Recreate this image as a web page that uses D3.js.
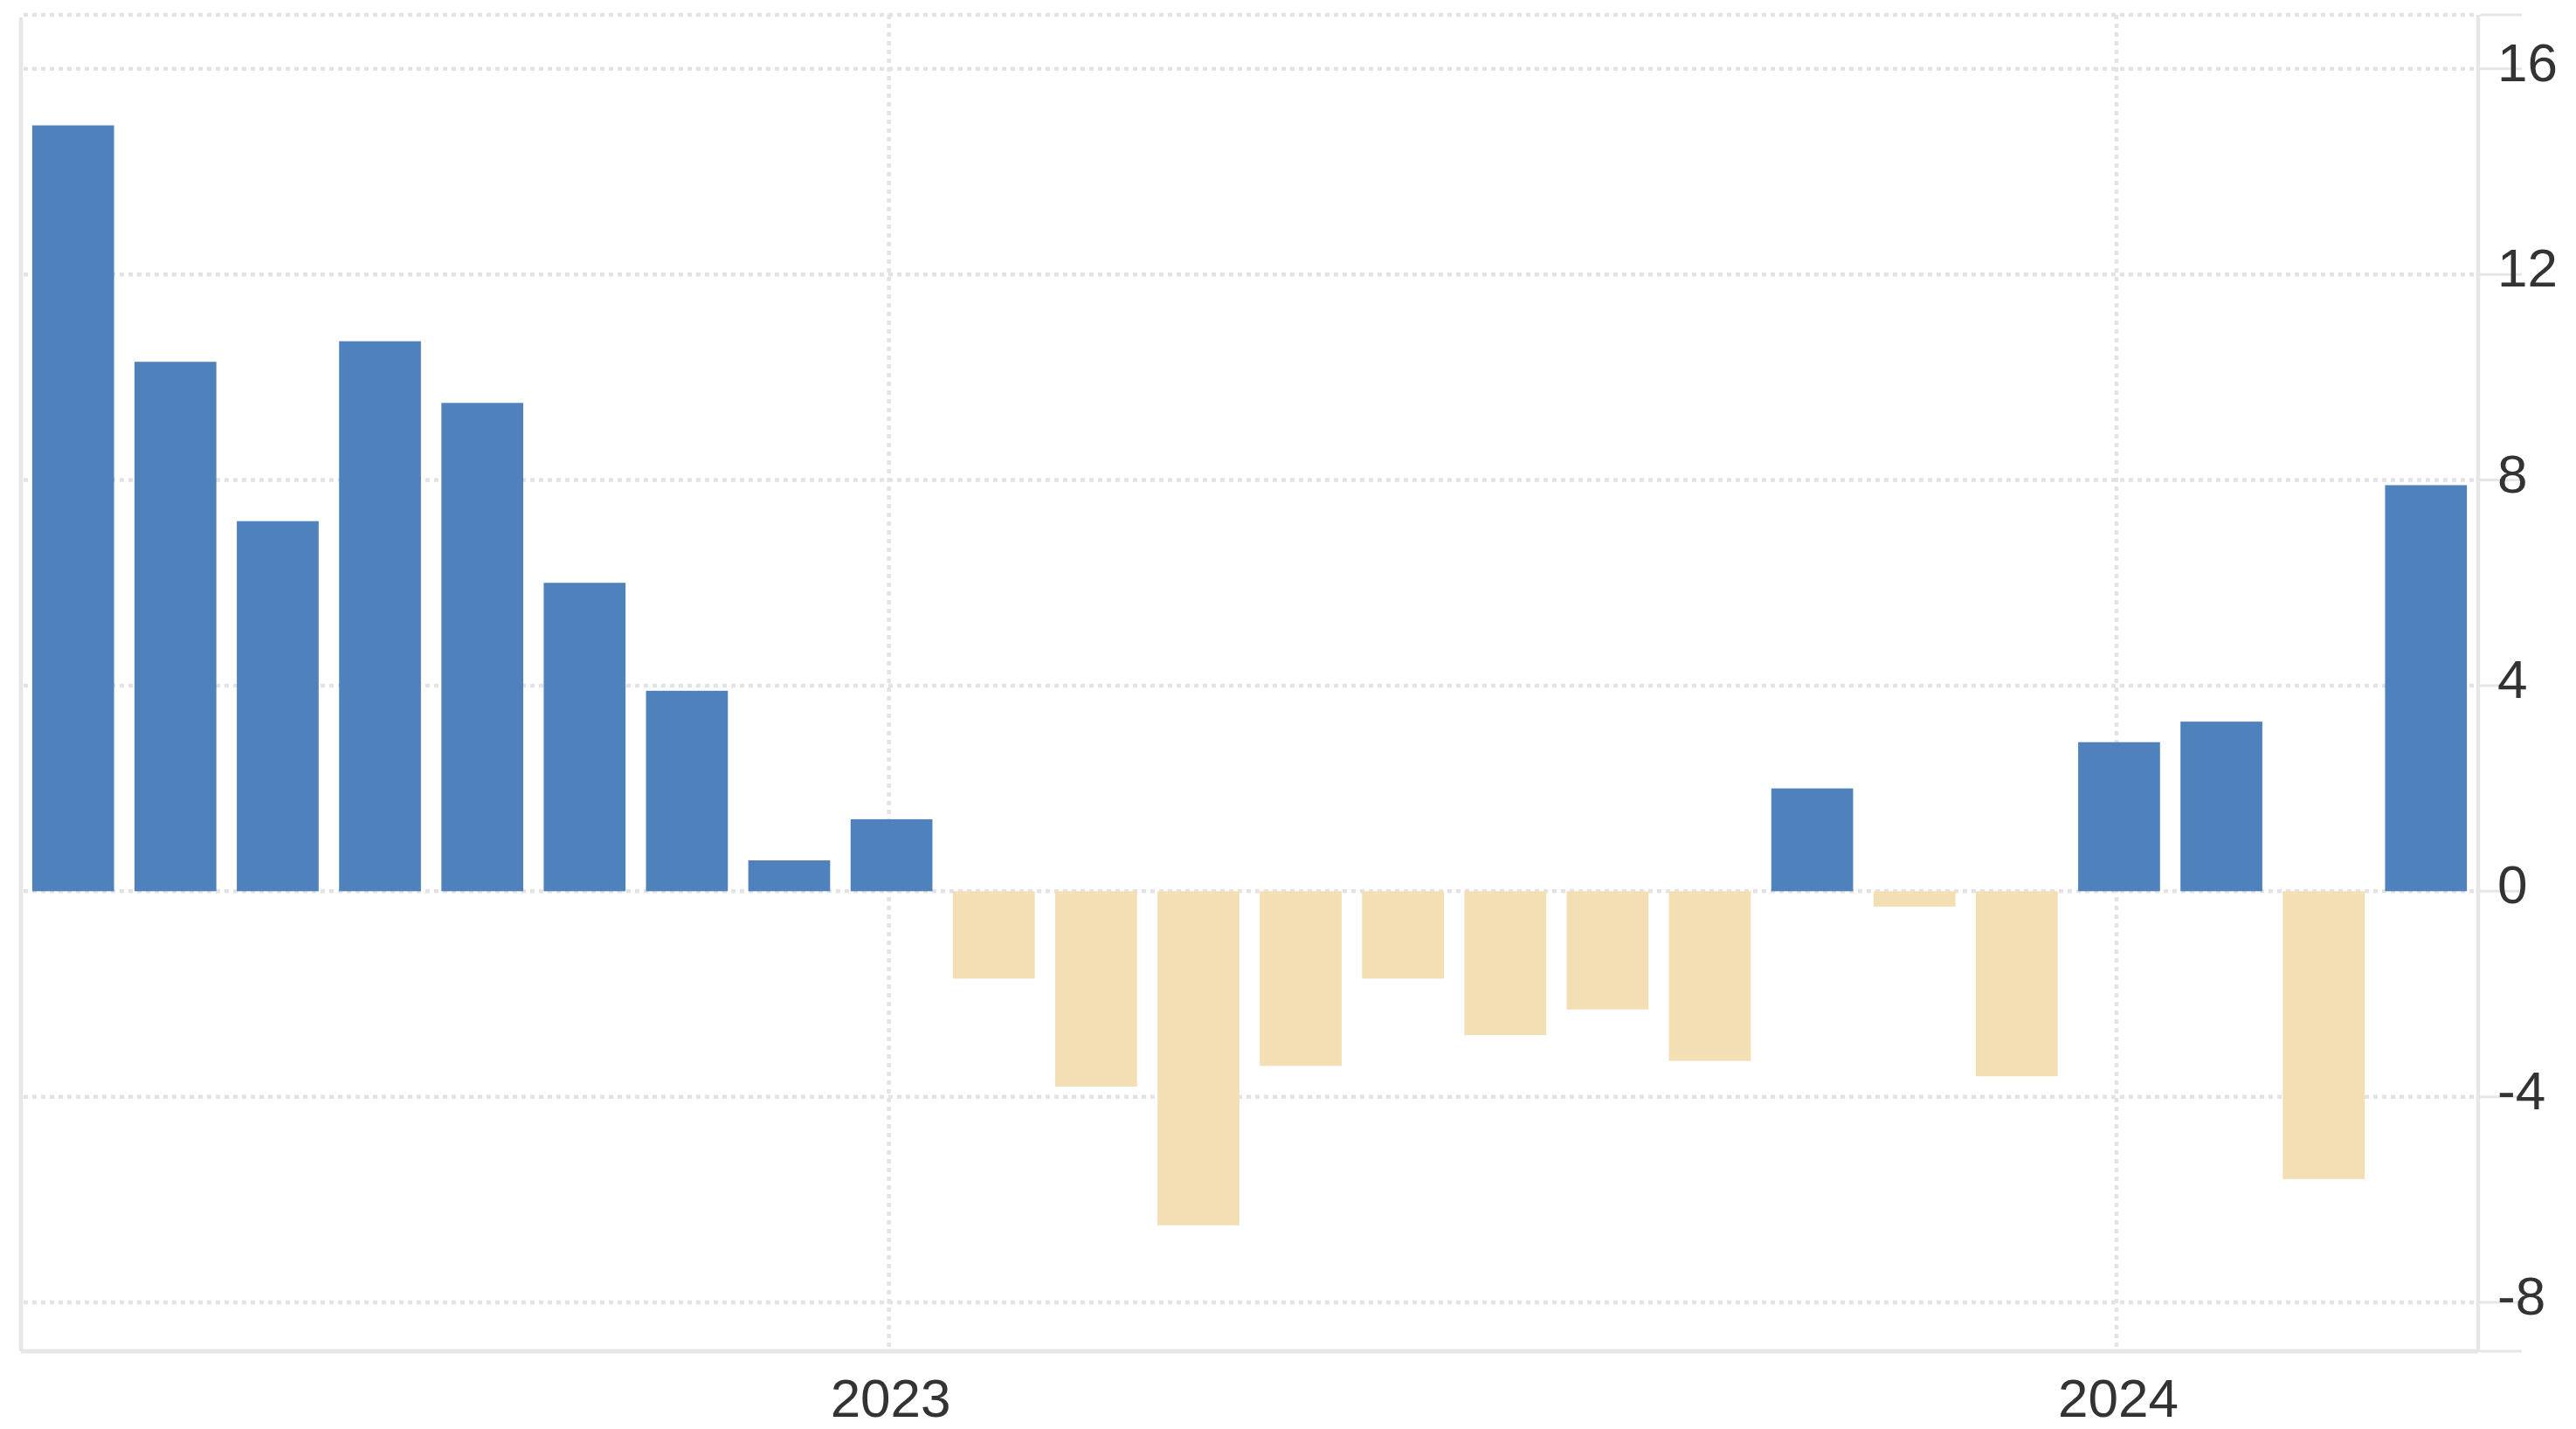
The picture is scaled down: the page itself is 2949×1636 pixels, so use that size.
<!DOCTYPE html>
<html>
<head>
<meta charset="utf-8">
<script src="https://cdn.jsdelivr.net/npm/d3@7"></script>
<style>
  html, body { margin: 0; padding: 0; background: #ffffff; }
  svg { display: block; }
  text { font-family: "Liberation Sans", Arial, sans-serif; fill: #333333; }
</style>
</head>
<body>
<svg id="chart" width="2949" height="1636"></svg>
<script>
// ---- data ----
const months = ["2022-05","2022-06","2022-07","2022-08","2022-09","2022-10","2022-11","2022-12",
                "2023-01","2023-02","2023-03","2023-04","2023-05","2023-06","2023-07","2023-08",
                "2023-09","2023-10","2023-11","2023-12","2024-01","2024-02","2024-03","2024-04"];
const values = [14.9, 10.3, 7.2, 10.7, 9.5, 6.0, 3.9, 0.6,
                1.4, -1.7, -3.8, -6.5, -3.4, -1.7, -2.8, -2.3,
                -3.3, 2.0, -0.3, -3.6, 2.9, 3.3, -5.6, 7.9];
const yTicks = [-8, -4, 0, 4, 8, 12, 16];
const xTickMonths = ["2023-01", "2024-01"];
const xTickLabels = ["2023", "2024"];

// ---- layout ----
const pL = 24, pR = 2837, pT = 17, pB = 1547;
const svg = d3.select("#chart");

const x = d3.scaleBand().domain(months).range([pL, pR])
  .paddingInner(0.2).paddingOuter(0.11);
const y = d3.scaleLinear().domain([-8.95, 17.05]).range([pB, pT]);

const gridColor = "#e3e3e3";
const axisColor = "#e6e6e6";

// horizontal grid lines (dotted)
svg.append("g").selectAll("line").data(yTicks).join("line")
  .attr("x1", pL + 3).attr("x2", pR - 2)
  .attr("y1", d => y(d)).attr("y2", d => y(d))
  .attr("stroke", gridColor).attr("stroke-width", 4.5)
  .attr("stroke-dasharray", "5,5");
// top dotted line
svg.append("line")
  .attr("x1", pL + 3).attr("x2", pR - 2)
  .attr("y1", pT).attr("y2", pT)
  .attr("stroke", gridColor).attr("stroke-width", 4.5)
  .attr("stroke-dasharray", "5,5");

// vertical grid lines at years
svg.append("g").selectAll("line").data(xTickMonths).join("line")
  .attr("x1", d => x(d) + x.bandwidth() / 2 - 3)
  .attr("x2", d => x(d) + x.bandwidth() / 2 - 3)
  .attr("y1", pT).attr("y2", pB)
  .attr("stroke", gridColor).attr("stroke-width", 4.5)
  .attr("stroke-dasharray", "5,5");

// bars
svg.append("g").selectAll("rect").data(values).join("rect")
  .attr("x", (d, i) => x(months[i]))
  .attr("width", x.bandwidth())
  .attr("y", d => y(Math.max(0, d)))
  .attr("height", d => Math.abs(y(d) - y(0)))
  .attr("fill", d => d >= 0 ? "#4f81bd" : "#f4deb3");

// frame lines
svg.append("line").attr("x1", pL).attr("x2", pL).attr("y1", pT + 3).attr("y2", pB)
  .attr("stroke", axisColor).attr("stroke-width", 4.5);
svg.append("line").attr("x1", pL).attr("x2", pR).attr("y1", pB).attr("y2", pB)
  .attr("stroke", axisColor).attr("stroke-width", 5);
svg.append("line").attr("x1", pR).attr("x2", pR).attr("y1", pT).attr("y2", pB + 1)
  .attr("stroke", axisColor).attr("stroke-width", 4.5);

// right tick stubs
const stubVals = [y.domain()[1], ...yTicks, y.domain()[0]];
svg.append("g").selectAll("line").data(stubVals).join("line")
  .attr("x1", pR + 2).attr("x2", pR + 50)
  .attr("y1", d => y(d)).attr("y2", d => y(d))
  .attr("stroke", axisColor).attr("stroke-width", 3);

// y labels
svg.append("g").selectAll("text").data(yTicks).join("text")
  .attr("x", 2859).attr("y", d => y(d) + 14)
  .attr("font-size", 62)
  .text(d => d);

// x labels
svg.append("g").selectAll("text").data(xTickMonths).join("text")
  .attr("x", d => x(d) + x.bandwidth() / 2 - 1)
  .attr("y", 1622)
  .attr("text-anchor", "middle")
  .attr("font-size", 62)
  .text((d, i) => xTickLabels[i]);
</script>
</body>
</html>
